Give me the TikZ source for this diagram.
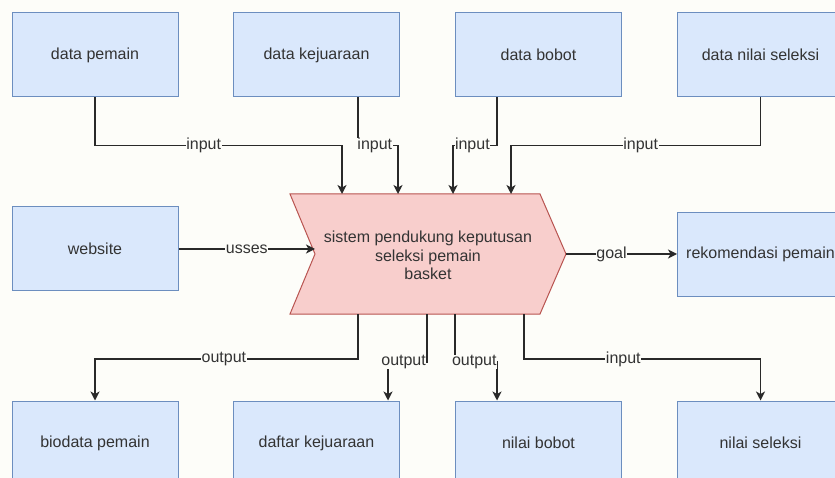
\documentclass[tikz,border=0pt]{standalone}
\usepackage{fontspec}
\setmainfont{Liberation Sans}
\usetikzlibrary{arrows.meta,calc}
\definecolor{boxfill}{HTML}{DAE8FC}
\definecolor{boxline}{HTML}{6C8EBF}
\definecolor{sysfill}{HTML}{F8CECC}
\definecolor{sysline}{HTML}{B85450}
\definecolor{txt}{HTML}{333333}
\definecolor{bg}{HTML}{FDFDF9}
\tikzset{
  box/.style={draw=boxline, fill=boxfill, line width=1pt, minimum width=166pt, minimum height=84pt, inner sep=0pt, text=txt, font=\fontsize{16}{19}\selectfont},
  arr/.style={draw=txt!80!black, line width=1.4pt, -{Stealth[length=9pt,width=9pt,inset=2.5pt]}, rounded corners=0pt},
  lbl/.style={fill=bg, inner sep=0.5pt, text=txt, font=\fontsize{16}{19}\selectfont},
}
\begin{document}
\begin{tikzpicture}[x=1pt,y=-1pt]
\clip (0,0) rectangle (835,478);
\fill[bg] (0,0) rectangle (835,478);
% top boxes
\node[box] (dp) at (95,55) {data pemain};
\node[box] (dk) at (316.5,55) {data kejuaraan};
\node[box] (db) at (538.5,55) {data bobot};
\node[box] (dn) at (760.5,55) {data nilai seleksi};
% middle
\node[box] (ws) at (95,249) {website};
\node[box] (rk) at (760.5,254.5) {rekomendasi pemain};
% bottom boxes
\node[box] (bp) at (95,443) {biodata pemain};
\node[box] (dkj) at (316.5,443) {daftar kejuaraan};
\node[box] (nb) at (538.5,443) {nilai bobot};
\node[box] (ns) at (760.5,443) {nilai seleksi};
% main step shape
\coordinate (A) at (290,194);
\coordinate (B) at (540,194);
\coordinate (C) at (566,254);
\coordinate (D) at (540,314);
\coordinate (E) at (290,314);
\coordinate (F) at (315,254);
\filldraw[fill=sysfill, draw=sysline, line width=1pt] (A) -- (B) -- (C) -- (D) -- (E) -- (F) -- cycle;
\node[text=txt, align=center, font=\fontsize{16}{18.5}\selectfont] (sys) at (428,255.5) {sistem pendukung keputusan\\seleksi pemain\\basket};
% connection points on the shape
\coordinate (t1) at (342,194);
\coordinate (t2) at (398,194);
\coordinate (t3) at (453,194);
\coordinate (t4) at (511,194);
\coordinate (b1) at (358,314);
\coordinate (b2) at (427,314);
\coordinate (b3) at (455,314);
\coordinate (b4) at (524,314);
% inputs
\draw[arr] (dp.south) -- ++(0,48) -| node[lbl,pos=0.22]{input} (t1);
\draw[arr] ([xshift=41.5pt]dk.south) -- ++(0,48) -| node[lbl,pos=0.21]{input} (t2);
\draw[arr] ([xshift=-41.5pt]db.south) -- ++(0,48) -| node[lbl,pos=0.28]{input} (t3);
\draw[arr] (dn.south) -- ++(0,48) -| node[lbl,pos=0.24]{input} (t4);
% uses / goal
\draw[arr] (ws.east) -- node[lbl]{usses} (ws.east -| F);
\draw[arr] (C) -- node[lbl,pos=0.41]{goal} (C -| rk.west);
% outputs
\draw[arr] (b1) -- ++(0,45) -| node[lbl,pos=0.255]{output} (bp.north);
\draw[arr] (b2) -- ++(0,48) -| node[lbl,pos=0.3]{output} ([xshift=71.5pt]dkj.north);
\draw[arr] (b3) -- ++(0,48) -| node[lbl,pos=0.23]{output} ([xshift=-41.5pt]nb.north);
\draw[arr] (b4) -- ++(0,45) -| node[lbl,pos=0.21]{input} (ns.north);
\end{tikzpicture}
\end{document}
